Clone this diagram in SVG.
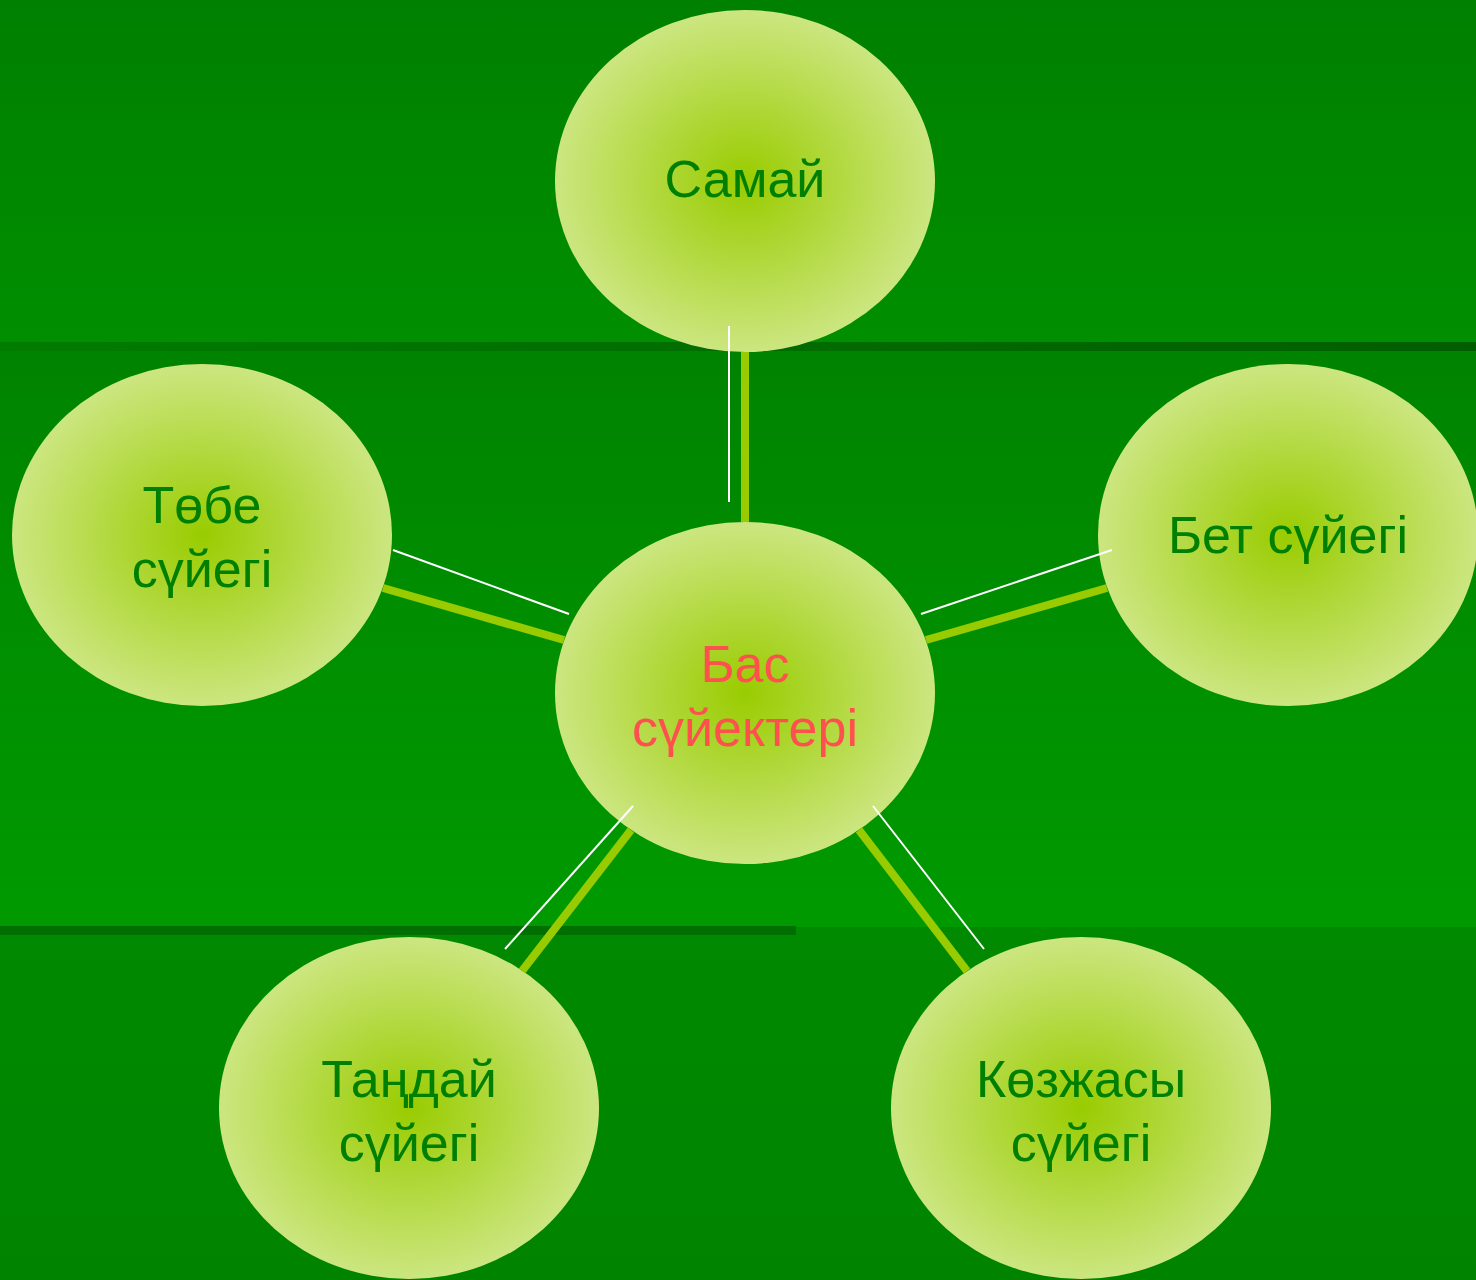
<svg xmlns="http://www.w3.org/2000/svg" width="1476" height="1280" viewBox="0 0 1476 1280">
<defs>
<linearGradient id="bgTop" x1="0" y1="0" x2="0" y2="1"><stop offset="0" stop-color="#008000"/><stop offset="1" stop-color="#008F00"/></linearGradient>
<linearGradient id="bgMid" x1="0" y1="0" x2="0" y2="1"><stop offset="0" stop-color="#008300"/><stop offset="1" stop-color="#009A00"/></linearGradient>
<linearGradient id="bgBot" x1="0" y1="0" x2="0" y2="1"><stop offset="0" stop-color="#008A00"/><stop offset="1" stop-color="#008400"/></linearGradient>
<linearGradient id="rule1" x1="0" y1="0" x2="1" y2="0"><stop offset="0" stop-color="#007C00"/><stop offset="1" stop-color="#005E00"/></linearGradient>
<radialGradient id="nodeFill" cx="0.5" cy="0.5" r="0.5"><stop offset="0" stop-color="#99CC00"/><stop offset="1" stop-color="#CCE680"/></radialGradient>
</defs>
<style>
.node ellipse{fill:url(#nodeFill)}
.lbl{font-family:"Liberation Sans",Arial,sans-serif;font-size:52px;fill:#008000;text-anchor:middle}
.red{fill:#FF5050}
.thick{stroke:#99CC00;stroke-width:8;fill:none}
.thin{stroke:#FFFFFF;stroke-width:2;fill:none}
</style>
<rect x="0" y="0" width="1476" height="342" fill="url(#bgTop)"/>
<rect x="0" y="342" width="1476" height="585" fill="url(#bgMid)"/>
<rect x="0" y="927" width="1476" height="353" fill="url(#bgBot)"/>
<rect x="0" y="342" width="1476" height="9" fill="url(#rule1)"/>
<rect x="0" y="926" width="796" height="9" fill="#006E00"/>
<g id="node-samai" class="node"><ellipse cx="745" cy="181" rx="190" ry="171"/><text class="lbl" x="745" y="197">Самай</text></g>
<g id="node-tobe" class="node"><ellipse cx="202" cy="535" rx="190" ry="171"/><text class="lbl" x="202" y="523">Төбе</text><text class="lbl" x="202" y="587">сүйегі</text></g>
<g id="node-bet" class="node"><ellipse cx="1288" cy="535" rx="190" ry="171"/><text class="lbl" x="1288" y="553">Бет сүйегі</text></g>
<g id="node-bas" class="node"><ellipse cx="745" cy="693" rx="190" ry="171"/><text class="lbl red" x="745" y="682">Бас</text><text class="lbl red" x="745" y="746">сүйектері</text></g>
<g id="node-tandai" class="node"><ellipse cx="409" cy="1108" rx="190" ry="171"/><text class="lbl" x="409" y="1097">Таңдай</text><text class="lbl" x="409" y="1161">сүйегі</text></g>
<g id="node-kozjasy" class="node"><ellipse cx="1081" cy="1108" rx="190" ry="171"/><text class="lbl" x="1081" y="1097">Көзжасы</text><text class="lbl" x="1081" y="1161">сүйегі</text></g>
<g id="connectors">
<line class="thick" x1="745" y1="352" x2="745" y2="522"/>
<line class="thin" x1="729" y1="326" x2="729" y2="502"/>
<line class="thick" x1="383" y1="588" x2="564" y2="640"/>
<line class="thin" x1="393" y1="550" x2="569" y2="614"/>
<line class="thick" x1="926" y1="640" x2="1107" y2="588"/>
<line class="thin" x1="921" y1="614" x2="1112" y2="550"/>
<line class="thick" x1="631" y1="830" x2="522" y2="971"/>
<line class="thin" x1="633" y1="806" x2="505" y2="949"/>
<line class="thick" x1="859" y1="830" x2="967" y2="971"/>
<line class="thin" x1="873" y1="806" x2="984" y2="949"/>
</g>
</svg>
